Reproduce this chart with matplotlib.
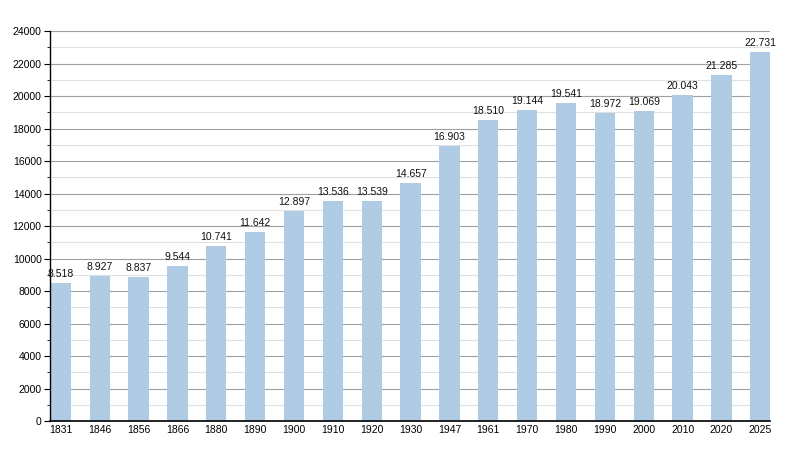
import matplotlib.pyplot as plt
from matplotlib.ticker import MultipleLocator

years = ['1831', '1846', '1856', '1866', '1880', '1890', '1900', '1910', '1920',
         '1930', '1947', '1961', '1970', '1980', '1990', '2000', '2010', '2020', '2025']
population = [8518, 8927, 8837, 9544, 10741, 11642, 12897, 13536, 13539,
              14657, 16903, 18510, 19144, 19541, 18972, 19069, 20043, 21285, 22731]
labels = ['8.518', '8.927', '8.837', '9.544', '10.741', '11.642', '12.897', '13.536', '13.539',
          '14.657', '16.903', '18.510', '19.144', '19.541', '18.972', '19.069', '20.043', '21.285', '22.731']

plt.rcParams['font.family'] = ['Liberation Sans', 'DejaVu Sans']

fig = plt.figure(figsize=(8, 4.5), dpi=100)
ax = fig.add_axes([0.0625, 0.0644, 0.9, 0.8667])

pos = list(range(len(years)))
ax.bar(pos, population, width=0.52, color='#b0cbe4', zorder=2)

for p, v, t in zip(pos, population, labels):
    ax.text(p, v + 250, t, ha='center', va='bottom', fontsize=7.5, color='#111111')

ax.set_ylim(0, 24000)
ax.set_xlim(-0.28, len(years) - 1 + 0.25)
ax.yaxis.set_major_locator(MultipleLocator(2000))
ax.yaxis.set_minor_locator(MultipleLocator(1000))
ax.grid(axis='y', which='major', color='#a0a0a0', linewidth=0.8, zorder=0)
ax.grid(axis='y', which='minor', color='#e0e0e0', linewidth=0.8, zorder=0)

ax.set_xticks(pos)
ax.set_xticklabels(years)
ax.tick_params(axis='x', length=0, labelsize=7.5, pad=3)
ax.tick_params(axis='y', which='major', length=4, labelsize=7.5, pad=2)
ax.tick_params(axis='y', which='minor', length=2)

for s in ['top', 'right']:
    ax.spines[s].set_visible(False)
ax.spines['left'].set_linewidth(1)
ax.spines['bottom'].set_linewidth(1.2)

fig.savefig('out.png', dpi=100)
